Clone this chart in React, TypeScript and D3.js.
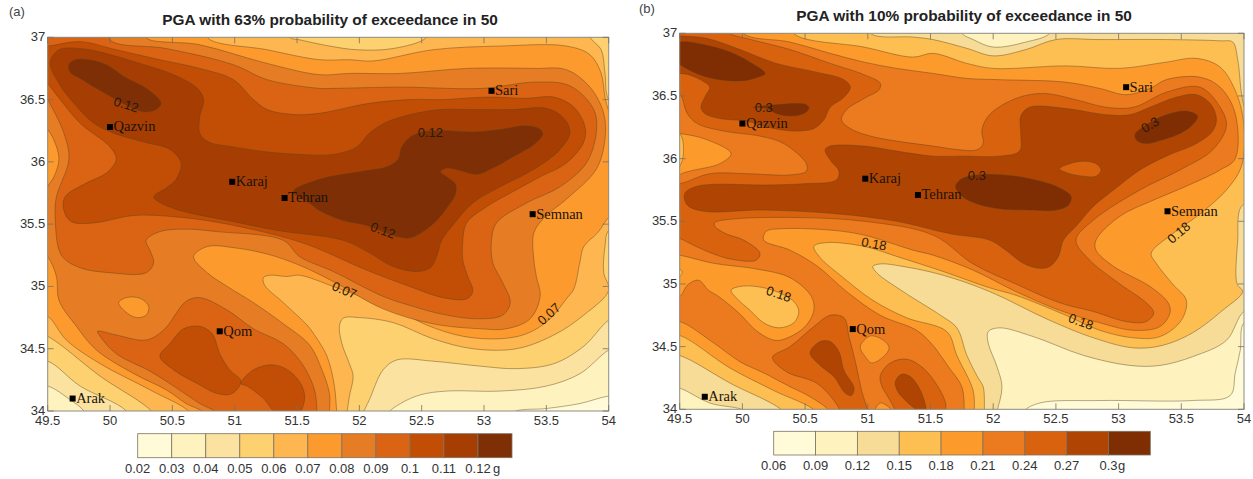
import * as d3 from "d3";
import React from "react";

type Pt = [number, number];
type Layer = [number, Pt[]];

const lonTicks = [49.5, 50, 50.5, 51, 51.5, 52, 52.5, 53, 53.5, 54];
const latTicks = [34, 34.5, 35, 35.5, 36, 36.5, 37];

const cities: [string, number, number][] = [
  ["Qazvin", 50.0, 36.28],
  ["Karaj", 50.98, 35.84],
  ["Tehran", 51.4, 35.71],
  ["Sari", 53.06, 36.57],
  ["Semnan", 53.39, 35.58],
  ["Qom", 50.88, 34.64],
  ["Arak", 49.7, 34.1],
];

// legend levels and colours, left panel
const aLevels = ["0.02", "0.03", "0.04", "0.05", "0.06", "0.07", "0.08", "0.09", "0.1", "0.11", "0.12"];
const aColors = ["#fffad8", "#fef3bf", "#fbe2a0", "#fdd070", "#feb650", "#fd9a2e", "#e67d24", "#da6413", "#c24e05", "#a63e03", "#7f2f06"];
// legend levels and colours, right panel
const bLevels = ["0.06", "0.09", "0.12", "0.15", "0.18", "0.21", "0.24", "0.27", "0.3"];
const bColors = ["#fffad8", "#fef2be", "#f7dc97", "#fdbf52", "#fd9a2c", "#ec7a1e", "#d9620f", "#b04503", "#7f2d02"];

// isolines, lon/lat
const a03: Pt[] = [[49.35,33.85],[49.35,37.15],[54.15,37.15],[54.15,34.12],[54,34.12],[53.77,34.06],[53.5,34.02],[53.23,33.99],[53.1,33.85]];
const a04: Pt[] = [[52.2,33.85],[52.23,33.98],[52.33,34.06],[52.49,34.13],[52.7,34.16],[53.13,34.16],[53.5,34.2],[53.77,34.3],[54,34.49],[54.15,34.55],[54.15,37.15],[49.35,37.15],[49.35,34.2],[49.5,34.2],[49.68,34.09],[49.79,34],[49.85,33.85]];
const a05: Pt[] = [[52,33.85],[52.03,33.98],[52.08,34.09],[52.19,34.33],[52.3,34.41],[52.59,34.4],[52.97,34.36],[53.26,34.34],[53.56,34.38],[53.8,34.52],[54,34.73],[54.15,34.8],[54.15,37.15],[49.35,37.15],[49.35,34.4],[49.5,34.4],[49.76,34.2],[50.13,34],[50.2,33.85]];
const a06: Pt[] = [[51.44,37],[51.52,36.98],[51.76,36.93],[51.98,36.9],[52.27,36.91],[52.54,37],[52.6,37.15],[53.8,37.15],[53.85,37],[53.94,36.9],[53.97,36.71],[54,36.5],[54.15,36.4],[54.15,35.5],[54,35.45],[53.97,35.32],[53.96,35.11],[54,34.97],[53.8,34.77],[53.56,34.61],[53.26,34.5],[52.91,34.5],[52.59,34.58],[52.27,34.71],[52,34.75],[51.87,34.745],[51.84,34.68],[51.86,34.54],[51.92,34.38],[51.95,34.28],[51.92,34.12],[51.9,33.98],[51.88,33.85],[50.4,33.85],[50.35,33.98],[49.92,34.28],[49.5,34.6],[49.35,34.65],[49.35,37.15],[51.4,37.15]];
const a07: Pt[] = [[50.8,37.15],[50.78,37],[51.26,36.9],[51.68,36.82],[51.92,36.82],[52.11,36.81],[52.59,36.9],[53.13,36.93],[53.66,36.93],[53.85,36.86],[53.94,36.71],[53.97,36.52],[54,36.41],[54.15,36.1],[54.15,35.6],[54.02,35.57],[53.91,35.43],[53.8,35.32],[53.77,35.2],[53.72,34.98],[53.66,34.9],[53.52,34.73],[53.34,34.62],[53.13,34.58],[52.83,34.6],[52.54,34.69],[52.3,34.81],[51.98,34.93],[51.79,35],[51.52,35.09],[51.42,35.08],[51.28,35.09],[51.23,35.07],[51.24,35.01],[51.39,34.87],[51.58,34.69],[51.63,34.625],[51.74,34.44],[51.8,34.2],[51.82,33.98],[51.84,33.85],[50.7,33.85],[50.65,33.98],[50.32,34.17],[49.92,34.38],[49.65,34.57],[49.5,34.76],[49.35,34.8],[49.35,37.15]];
const a08: Pt[] = [[50.4,37.15],[50.29,37],[50.72,36.94],[51.26,36.79],[51.68,36.7],[51.92,36.71],[52.33,36.71],[52.86,36.75],[53.4,36.75],[53.66,36.74],[53.85,36.6],[53.96,36.39],[53.97,36.18],[53.9,35.94],[53.66,35.7],[53.49,35.56],[53.4,35.43],[53.4,35.21],[53.42,35.08],[53.45,34.92],[53.37,34.74],[53.18,34.66],[52.97,34.66],[52.59,34.7],[52.19,34.82],[51.79,35.04],[51.52,35.17],[51.26,35.26],[51,35.31],[50.78,35.32],[50.67,35.24],[50.78,35.11],[50.94,35],[51.15,34.87],[51.39,34.7],[51.6,34.53],[51.7,34.33],[51.76,34.14],[51.76,33.98],[51.76,33.85],[50.8,33.85],[50.76,33.98],[50.61,34.06],[50.45,34.17],[50.19,34.3],[49.89,34.49],[49.73,34.68],[49.59,34.89],[49.57,35.08],[49.5,35.24],[49.35,35.4],[49.5,35.8],[49.55,35.88],[49.59,36.02],[49.56,36.15],[49.5,36.26],[49.35,36.4],[49.35,37.15]];
const a08Hole: Pt[] = [[50.07,34.87],[50.13,34.91],[50.24,34.905],[50.31,34.84],[50.29,34.77],[50.21,34.75],[50.12,34.8]];
const a09: Pt[] = [[50,37.15],[50,36.98],[50.45,36.91],[50.99,36.78],[51.26,36.66],[51.68,36.59],[51.79,36.59],[52.33,36.6],[52.99,36.59],[53.4,36.64],[53.69,36.61],[53.88,36.42],[53.9,36.23],[53.82,35.99],[53.61,35.8],[53.34,35.67],[53.1,35.51],[53.06,35.37],[53.07,35.19],[53.15,35.03],[53.21,34.87],[53.15,34.77],[52.94,34.74],[52.65,34.78],[52.43,34.84],[52.19,34.92],[51.79,35.12],[51.52,35.24],[51.39,35.37],[50.86,35.44],[50.61,35.46],[50.4,35.44],[50.29,35.37],[50.32,35.29],[50.35,35.19],[50.29,35.11],[50,35.11],[49.76,35.15],[49.61,35.25],[49.56,35.56],[49.57,35.72],[49.67,36.02],[49.63,36.23],[49.5,36.5],[49.35,36.75],[49.35,37.15]];
const a09South: Pt[] = [[49.9,34.64],[50.05,34.61],[50.29,34.57],[50.43,34.65],[50.61,34.88],[50.72,34.91],[50.94,34.81],[51.15,34.66],[51.39,34.54],[51.54,34.38],[51.64,34.17],[51.66,33.98],[51.66,33.85],[50.9,33.85],[50.86,33.98],[50.72,34.06],[50.51,34.2],[50.32,34.32],[50.05,34.46],[49.92,34.6]];
const a10: Pt[] = [[49.38,36.93],[49.5,36.93],[49.76,36.965],[50.05,36.9],[50.4,36.82],[50.72,36.75],[50.99,36.66],[51.15,36.5],[51.26,36.42],[51.47,36.38],[51.68,36.39],[52.08,36.47],[52.41,36.5],[52.67,36.5],[53.02,36.52],[53.34,36.51],[53.56,36.52],[53.72,36.44],[53.81,36.28],[53.8,36.16],[53.66,35.99],[53.45,35.88],[53.23,35.76],[53.02,35.64],[52.86,35.51],[52.83,35.37],[52.83,35.21],[52.87,35.08],[52.91,34.96],[52.86,34.9],[52.67,34.91],[52.43,34.99],[52.06,35.13],[51.6,35.33],[51.26,35.43],[50.83,35.52],[50.51,35.56],[50.19,35.57],[49.87,35.51],[49.69,35.52],[49.63,35.61],[49.64,35.72],[49.81,35.83],[49.97,35.91],[50.05,36.02],[50,36.12],[49.76,36.31],[49.6,36.5],[49.5,36.63],[49.38,36.76]];
const a10Qom: Pt[] = [[50.4,34.44],[50.48,34.54],[50.59,34.66],[50.72,34.68],[50.82,34.62],[50.88,34.46],[50.96,34.33],[51.05,34.24],[50.98,34.14],[50.86,34.14],[50.7,34.22],[50.51,34.33]];
const a10South: Pt[] = [[51.05,34.22],[51.15,34.33],[51.31,34.37],[51.44,34.32],[51.54,34.2],[51.56,34.09],[51.51,33.98],[51.34,33.98],[51.23,34.1],[51.1,34.2]];
const a11: Pt[] = [[49.52,36.8],[49.59,36.9],[49.76,36.91],[49.97,36.87],[50.24,36.79],[50.51,36.7],[50.7,36.59],[50.75,36.5],[50.72,36.36],[50.72,36.23],[50.79,36.16],[50.99,36.12],[51.26,36.08],[51.52,36.06],[51.79,36.06],[51.98,36.12],[52.08,36.23],[52.22,36.32],[52.41,36.38],[52.65,36.42],[52.91,36.42],[53.23,36.42],[53.5,36.43],[53.63,36.36],[53.69,36.24],[53.61,36.1],[53.4,35.94],[53.13,35.8],[52.91,35.67],[52.74,35.48],[52.66,35.37],[52.62,35.24],[52.57,35.15],[52.46,35.12],[52.27,35.16],[52.08,35.27],[51.87,35.37],[51.34,35.45],[50.99,35.52],[50.56,35.61],[50.39,35.68],[50.35,35.72],[50.45,35.79],[50.53,35.86],[50.57,35.99],[50.48,36.1],[50.27,36.16],[50.03,36.23],[49.87,36.31],[49.71,36.47],[49.59,36.63]];
const a12North: Pt[] = [[49.67,36.78],[49.72,36.82],[49.83,36.82],[49.97,36.78],[50.12,36.68],[50.29,36.59],[50.41,36.47],[50.37,36.42],[50.28,36.4],[50.16,36.44],[50.03,36.51],[49.89,36.59],[49.76,36.67],[49.68,36.72]];
const a12Main: Pt[] = [[51.47,35.76],[51.68,35.86],[52,35.92],[52.22,35.96],[52.31,36.02],[52.34,36.12],[52.41,36.2],[52.51,36.24],[52.7,36.25],[52.91,36.24],[53.13,36.26],[53.34,36.29],[53.45,36.26],[53.47,36.22],[53.4,36.14],[53.23,36.04],[53.07,35.95],[52.94,35.9],[52.81,35.93],[52.7,35.95],[52.65,35.92],[52.7,35.88],[52.77,35.82],[52.77,35.74],[52.7,35.63],[52.62,35.53],[52.51,35.44],[52.41,35.39],[52.3,35.4],[52.06,35.49],[51.87,35.53],[51.68,35.61],[51.6,35.67]];
const aLayers: Layer[] = [[1,a03],[2,a04],[3,a05],[4,a06],[5,a07],[6,a08],[5,a08Hole],[7,a09],[7,a09South],[8,a10],[8,a10Qom],[8,a10South],[9,a11],[10,a12North],[10,a12Main]];
const aLabels: [string, number, number, number][] = [
  ["0.12", 50.13, 36.46, 17], ["0.12", 52.57, 36.235, 0], ["0.12", 52.19, 35.45, 20],
  ["0.07", 51.88, 34.97, 22], ["0.07", 53.52, 34.78, -42],
];

// isolines, lon/lat
const b09: Pt[] = [[54,34.69],[53.97,34.47],[53.93,34.29],[53.89,34.11],[53.59,34.07],[52.85,34.07],[52.37,34.05],[52.24,33.98],[52.2,33.85],[49.35,33.85],[49.35,37.15],[54.15,37.15],[54.15,34.69]];
const b12: Pt[] = [[51.75,37],[51.84,36.95],[52,36.89],[52.26,36.93],[52.45,37],[52.5,37.15],[54.15,37.15],[54.15,34.8],[54,34.78],[53.86,34.55],[53.59,34.42],[53.33,34.35],[53.09,34.35],[52.72,34.43],[52.32,34.58],[52.05,34.65],[51.96,34.62],[51.96,34.53],[52.03,34.34],[52.07,34.18],[52.03,33.98],[52,33.85],[50.08,33.85],[50.03,33.98],[49.74,34.05],[49.5,34.17],[49.35,34.2],[49.35,37.15],[51.7,37.15]];
const b15: Pt[] = [[51.02,37],[51.36,36.97],[51.52,36.95],[51.79,36.88],[52,36.82],[52.26,36.87],[52.5,36.95],[52.85,36.95],[53.38,36.95],[53.81,36.94],[53.91,36.93],[53.95,36.79],[53.98,36.52],[54.01,36.39],[54.15,36.1],[54.15,35.7],[53.98,35.62],[53.95,35.35],[53.945,35],[53.99,34.94],[53.83,34.79],[53.59,34.61],[53.35,34.51],[53.12,34.49],[52.8,34.57],[52.45,34.71],[51.97,34.94],[51.6,35.07],[51.28,35.14],[51.1,35.16],[51.04,35.14],[51.07,35.09],[51.28,34.94],[51.58,34.75],[51.71,34.65],[51.79,34.43],[51.88,34.25],[51.92,34.18],[51.93,33.98],[51.93,33.85],[50.4,33.85],[50.33,33.98],[49.9,34.21],[49.5,34.43],[49.35,34.45],[49.35,37.15],[51,37.15]];
const b18: Pt[] = [[50.41,37],[50.97,36.89],[51.36,36.81],[51.52,36.84],[51.79,36.76],[52,36.72],[52.58,36.74],[53.01,36.72],[53.38,36.77],[53.62,36.8],[53.81,36.73],[53.94,36.52],[54,36.26],[53.98,35.94],[53.86,35.75],[53.65,35.56],[53.43,35.4],[53.26,35.245],[53.3,35.165],[53.43,35],[53.54,34.87],[53.5,34.71],[53.33,34.58],[53.12,34.57],[52.85,34.63],[52.58,34.75],[52.18,34.91],[51.97,34.97],[51.6,35.1],[51.23,35.22],[50.97,35.3],[50.67,35.33],[50.57,35.3],[50.62,35.21],[50.78,35.07],[51.04,34.87],[51.31,34.73],[51.63,34.62],[51.71,34.43],[51.84,34.15],[51.85,33.98],[51.85,33.85],[50.65,33.85],[50.59,33.98],[50.25,34.15],[49.9,34.33],[49.5,34.59],[49.35,34.6],[49.35,35],[49.5,35.06],[49.52,35.09],[49.5,35.12],[49.35,35.15],[49.35,35.85],[49.5,35.94],[49.53,36.07],[49.5,36.2],[49.35,36.25],[49.35,37.15],[50.4,37.15]];
const b18Hole: Pt[] = [[49.91,34.95],[49.98,34.98],[50.11,34.98],[50.27,34.94],[50.41,34.86],[50.45,34.78],[50.41,34.69],[50.29,34.65],[50.17,34.69],[50.06,34.79],[49.95,34.89]];
const b21: Pt[] = [[50.01,37],[50.38,36.93],[50.7,36.84],[50.97,36.77],[51.23,36.72],[51.52,36.68],[51.79,36.64],[52.05,36.63],[52.58,36.61],[52.85,36.56],[53.06,36.51],[53.25,36.56],[53.38,36.63],[53.65,36.65],[53.81,36.57],[53.93,36.36],[53.93,36],[53.81,35.91],[53.54,35.78],[53.28,35.67],[53.01,35.54],[52.82,35.35],[52.82,35.27],[52.96,35.14],[53.25,34.98],[53.395,34.85],[53.41,34.77],[53.33,34.66],[53.12,34.63],[52.85,34.69],[52.53,34.79],[52.18,34.94],[51.84,35.11],[51.52,35.23],[51.36,35.27],[50.97,35.39],[50.7,35.43],[50.3,35.44],[50.19,35.42],[50.17,35.35],[50.38,35.27],[50.6,35.14],[50.83,34.94],[51.1,34.75],[51.39,34.63],[51.52,34.51],[51.58,34.43],[51.65,34.33],[51.75,34.18],[51.77,33.98],[51.77,33.85],[50.75,33.85],[50.7,33.98],[50.54,34.1],[50.38,34.18],[50.17,34.29],[49.98,34.38],[49.77,34.53],[49.5,34.7],[49.35,34.7],[49.35,34.9],[49.5,34.9],[49.56,34.99],[49.65,35.03],[49.73,34.95],[49.81,34.9],[49.97,34.77],[50.12,34.62],[50.26,34.55],[50.36,34.57],[50.5,34.66],[50.57,34.79],[50.55,34.9],[50.38,35.05],[50.11,35.12],[49.77,35.165],[49.5,35.23],[49.35,35.25],[49.35,35.65],[49.5,35.87],[49.58,35.9],[49.82,35.96],[49.91,36.04],[49.72,36.15],[49.5,36.2],[49.35,36.2],[49.35,37.15],[50,37.15]];
const b21HoleQom: Pt[] = [[50.94,34.5],[51.02,34.585],[51.125,34.55],[51.17,34.49],[51.125,34.42],[51.03,34.37],[50.98,34.42]];
const b21HoleEdge: Pt[] = [[51.05,33.98],[51.1,34.05],[51.15,34.03],[51.2,33.98],[51.2,33.85],[51.05,33.85]];
const b24: Pt[] = [[49.9,37],[50.03,36.96],[50.38,36.87],[50.7,36.76],[50.97,36.67],[51.1,36.6],[51.09,36.55],[50.97,36.48],[50.83,36.39],[50.79,36.31],[50.86,36.24],[51.02,36.18],[51.23,36.14],[51.52,36.1],[51.73,36.07],[51.87,36.07],[51.92,36.12],[51.91,36.23],[51.97,36.35],[52.18,36.48],[52.4,36.52],[52.66,36.47],[52.9,36.41],[53.12,36.41],[53.38,36.53],[53.65,36.57],[53.81,36.41],[53.86,36.26],[53.75,36.07],[53.49,35.91],[53.17,35.75],[52.8,35.51],[52.66,35.35],[52.77,35.19],[53.01,35],[53.22,34.85],[53.28,34.77],[53.22,34.7],[53.06,34.7],[52.8,34.78],[52.53,34.85],[52.18,35],[51.84,35.16],[51.52,35.39],[50.97,35.5],[50.43,35.53],[49.95,35.52],[49.78,35.49],[49.78,35.46],[49.87,35.4],[50.01,35.35],[50.14,35.245],[50.11,35.19],[49.9,35.2],[49.72,35.26],[49.53,35.35],[49.35,35.45],[49.35,35.8],[49.5,35.8],[49.74,35.88],[50.03,35.88],[50.38,35.87],[50.51,35.9],[50.51,35.96],[50.33,36.12],[50.14,36.18],[49.85,36.22],[49.64,36.28],[49.56,36.36],[49.5,36.52],[49.35,36.6],[49.35,37.1],[49.85,37.1]];
const b24Qom: Pt[] = [[50.24,34.415],[50.38,34.5],[50.57,34.66],[50.7,34.75],[50.81,34.73],[50.85,34.58],[50.91,34.34],[50.95,34.15],[51,33.98],[51,33.85],[50.78,33.85],[50.78,33.98],[50.73,34.07],[50.59,34.21],[50.35,34.3]];
const b24South: Pt[] = [[51.1,34.27],[51.18,34.37],[51.31,34.4],[51.44,34.33],[51.56,34.18],[51.62,34.05],[51.62,33.98],[51.62,33.85],[51.22,33.85],[51.22,33.98],[51.16,34.1],[51.11,34.19]];
const b27North: Pt[] = [[49.5,36.98],[49.715,36.96],[49.98,36.87],[50.27,36.76],[50.59,36.69],[50.81,36.63],[50.86,36.57],[50.81,36.49],[50.7,36.41],[50.65,36.31],[50.57,36.24],[50.43,36.22],[50.25,36.24],[50.03,36.3],[49.82,36.32],[49.7,36.36],[49.67,36.41],[49.7,36.49],[49.74,36.57],[49.7,36.61],[49.57,36.67],[49.5,36.68],[49.35,36.7],[49.35,37]];
const b27Main: Pt[] = [[50.66,36.07],[50.7,36.1],[50.97,36.1],[51.23,36.06],[51.52,36.02],[51.76,36.02],[52.05,36.02],[52.21,36.06],[52.22,36.2],[52.22,36.34],[52.29,36.41],[52.58,36.4],[52.9,36.35],[53.09,36.35],[53.25,36.41],[53.46,36.49],[53.62,36.51],[53.73,36.44],[53.78,36.32],[53.75,36.22],[53.62,36.12],[53.38,36.02],[53.17,35.91],[52.96,35.75],[52.8,35.62],[52.66,35.46],[52.56,35.35],[52.52,35.22],[52.45,35.14],[52.37,35.125],[52.24,35.165],[52.1,35.27],[51.97,35.35],[51.66,35.4],[51.23,35.5],[50.75,35.56],[50.17,35.59],[49.69,35.58],[49.56,35.63],[49.54,35.72],[49.64,35.78],[50.22,35.79],[50.49,35.8],[50.75,35.83],[50.77,35.9],[50.7,35.99]];
const b27Hole: Pt[] = [[52.53,35.92],[52.61,35.96],[52.72,35.98],[52.82,35.96],[52.86,35.91],[52.82,35.86],[52.72,35.86],[52.61,35.88]];
const b27Qom: Pt[] = [[50.54,34.45],[50.62,34.54],[50.7,34.54],[50.77,34.46],[50.81,34.31],[50.89,34.17],[50.87,34.11],[50.82,34.13],[50.73,34.26],[50.62,34.35]];
const b27South: Pt[] = [[51.22,34.22],[51.27,34.28],[51.34,34.26],[51.42,34.15],[51.47,33.98],[51.47,33.85],[51.39,33.85],[51.39,33.98],[51.31,34.06],[51.24,34.14]];
const b30West: Pt[] = [[49.35,36.85],[49.5,36.93],[49.69,36.91],[49.9,36.85],[50.06,36.77],[50.18,36.68],[50.09,36.64],[49.98,36.62],[49.82,36.63],[49.66,36.67],[49.5,36.75]];
const b30Qazvin: Pt[] = [[50.09,36.41],[50.27,36.43],[50.43,36.44],[50.51,36.43],[50.53,36.4],[50.49,36.36],[50.38,36.34],[50.27,36.36],[50.19,36.4]];
const b30Center: Pt[] = [[51.7,35.78],[51.75,35.84],[51.87,35.87],[52.08,35.87],[52.29,35.84],[52.5,35.78],[52.62,35.7],[52.6,35.63],[52.5,35.59],[52.29,35.59],[52.05,35.6],[51.87,35.64],[51.75,35.7]];
const b30East: Pt[] = [[53.13,36.19],[53.22,36.27],[53.38,36.35],[53.54,36.38],[53.63,36.34],[53.59,36.27],[53.49,36.2],[53.35,36.15],[53.22,36.12],[53.15,36.14]];
const bLayers: Layer[] = [[1,b09],[2,b12],[3,b15],[4,b18],[3,b18Hole],[5,b21],[4,b21HoleQom],[4,b21HoleEdge],[6,b24],[6,b24Qom],[6,b24South],[7,b27North],[7,b27Main],[6,b27Hole],[7,b27Qom],[7,b27South],[8,b30West],[8,b30Qazvin],[8,b30Center],[8,b30East]];
const bLabels: [string, number, number, number][] = [
  ["0.3", 50.17, 36.41, 0], ["0.3", 51.87, 35.865, 0], ["0.3", 53.25, 36.27, -30],
  ["0.18", 53.48, 35.41, -40], ["0.18", 51.05, 35.32, 10], ["0.18", 50.29, 34.92, 18], ["0.18", 52.7, 34.7, 20],
];

const sans = "'Liberation Sans', Arial, sans-serif";
const serif = "'Liberation Serif', 'Times New Roman', serif";

type PanelProps = {
  id: string; tag: string; tagX: number; tagY: number;
  title: string; titleX: number; titleY: number;
  x0: number; x1: number; y0: number; y1: number;
  layers: Layer[]; colors: string[]; levels: string[]; labels: [string, number, number, number][];
  legX0: number; legX1: number; legY0: number; legY1: number; unitX: number;
};

const Panel = (p: PanelProps) => {
  const x = d3.scaleLinear().domain([49.5, 54]).range([p.x0, p.x1]);
  const y = d3.scaleLinear().domain([34, 37]).range([p.y1, p.y0]);
  const ring = d3.line<Pt>().x((d) => x(d[0])).y((d) => y(d[1])).curve(d3.curveCatmullRomClosed.alpha(0.5));
  const leg = d3.scaleLinear().domain([0, p.levels.length]).range([p.legX0, p.legX1]);
  const tick = 6;
  return (
    <g>
      <text x={p.tagX} y={p.tagY} fontFamily={sans} fontSize={13} fill="#444">{p.tag}</text>
      <text x={p.titleX} y={p.titleY} textAnchor="middle" fontFamily={sans} fontWeight="bold" fontSize={15.4} fill="#222">{p.title}</text>
      <clipPath id={p.id}><rect x={p.x0} y={p.y0} width={p.x1 - p.x0} height={p.y1 - p.y0} /></clipPath>
      <g clipPath={`url(#${p.id})`}>
        <rect x={p.x0} y={p.y0} width={p.x1 - p.x0} height={p.y1 - p.y0} fill={p.colors[0]} />
        {p.layers.map(([c, pts], i) => (
          <path key={i} d={ring(pts) ?? ""} fill={p.colors[c]} stroke="#5e4220" strokeOpacity={0.75} strokeWidth={0.6} />
        ))}
      </g>
      <rect x={p.x0} y={p.y0} width={p.x1 - p.x0} height={p.y1 - p.y0} fill="none" stroke="#8c8c84" strokeWidth={1} />
      {lonTicks.map((t) => (
        <g key={t}>
          <line x1={x(t)} x2={x(t)} y1={p.y0} y2={p.y0 + tick} stroke="#77705f" strokeWidth={0.8} />
          <line x1={x(t)} x2={x(t)} y1={p.y1} y2={p.y1 - tick} stroke="#77705f" strokeWidth={0.8} />
          <text x={x(t)} y={p.y1 + 14} textAnchor="middle" fontFamily={sans} fontSize={13} fill="#333">{t}</text>
        </g>
      ))}
      {latTicks.map((t) => (
        <g key={t}>
          <line x1={p.x0} x2={p.x0 + tick} y1={y(t)} y2={y(t)} stroke="#77705f" strokeWidth={0.8} />
          <line x1={p.x1} x2={p.x1 - tick} y1={y(t)} y2={y(t)} stroke="#77705f" strokeWidth={0.8} />
          <text x={p.x0 - 2.5} y={y(t) + 4} textAnchor="end" fontFamily={sans} fontSize={13} fill="#333">{t}</text>
        </g>
      ))}
      {p.labels.map(([s, lon, lat, rot], i) => (
        <text key={i} textAnchor="middle" dy={4.5} transform={`translate(${x(lon)},${y(lat)}) rotate(${rot})`} fontFamily={sans} fontSize={13} fill="#2a1a08">{s}</text>
      ))}
      {cities.map(([name, lon, lat]) => (
        <g key={name}>
          <rect x={x(lon) - 3} y={y(lat) - 3} width={6} height={6} fill="#000" />
          <text x={x(lon) + 3.5} y={y(lat) + 4.5} fontFamily={serif} fontSize={14.5} fill="#1a1208">{name}</text>
        </g>
      ))}
      {p.levels.map((s, i) => (
        <g key={s}>
          <rect x={leg(i)} y={p.legY0} width={leg(i + 1) - leg(i)} height={p.legY1 - p.legY0} fill={p.colors[i]} stroke="#7d7360" strokeWidth={0.8} />
          <text x={leg(i)} y={p.legY1 + 15} textAnchor="middle" fontFamily={sans} fontSize={13} fill="#333">{s}</text>
        </g>
      ))}
      <text x={p.unitX} y={p.legY1 + 15} fontFamily={sans} fontSize={13} fill="#333">g</text>
    </g>
  );
};

export default function App() {
  return (
    <svg width={1253} height={479} style={{ position: "absolute", left: 0, top: 0, display: "block", background: "#fff" }}>
      <Panel id="clipA" tag="(a)" tagX={9} tagY={16} title="PGA with 63% probability of exceedance in 50" titleX={330} titleY={25}
        x0={47.7} x1={608.7} y0={37.3} y1={411} layers={aLayers} colors={aColors} levels={aLevels} labels={aLabels}
        legX0={137.7} legX1={512} legY0={433.7} legY1={457.7} unitX={493} />
      <Panel id="clipB" tag="(b)" tagX={639} tagY={13} title="PGA with 10% probability of exceedance in 50" titleX={964} titleY={21}
        x0={679.7} x1={1244} y0={33.3} y1={409.3} layers={bLayers} colors={bColors} levels={bLevels} labels={bLabels}
        legX0={773.7} legX1={1150.3} legY0={431.3} legY1={455} unitX={1118} />
    </svg>
  );
}
